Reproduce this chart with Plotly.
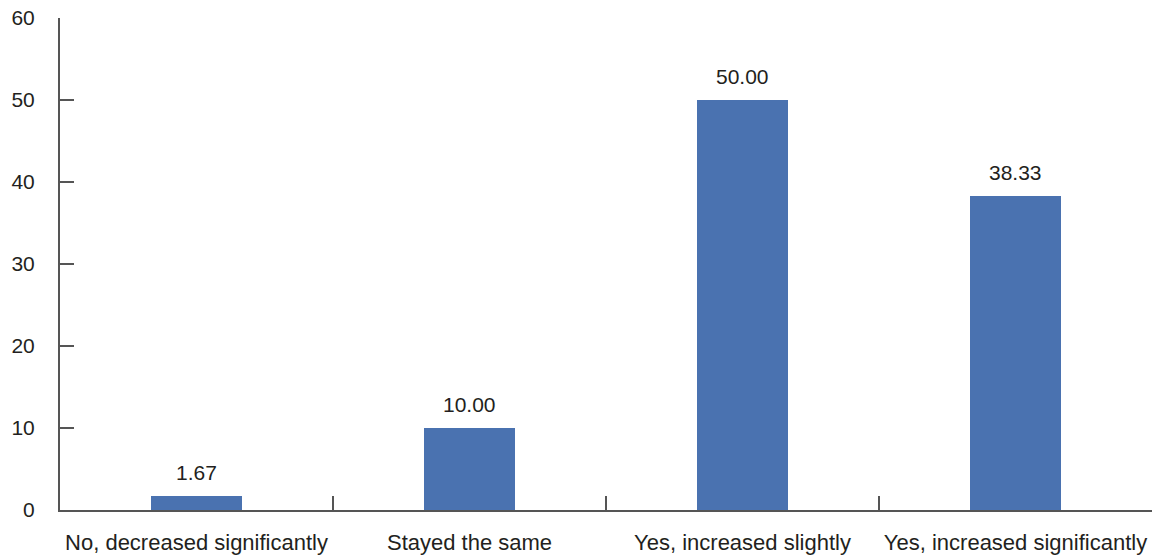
import plotly.graph_objects as go

categories = ["No, decreased significantly", "Stayed the same", "Yes, increased slightly", "Yes, increased significantly"]
values = [1.67, 10.00, 50.00, 38.33]
y_ticks = [0, 10, 20, 30, 40, 50, 60]

bar_color = "#4a72b0"
text_color = "#231f20"
axis_color = "#555555"
font_family = "Liberation Sans, Arial, sans-serif"

fig = go.Figure()
fig.add_trace(go.Bar(
    x=categories, y=values, marker=dict(color=bar_color, line=dict(width=0)),
    width=0.333, showlegend=False,
))

for c, v in zip(categories, values):
    fig.add_annotation(
        x=c, y=v, text=f"{v:.2f}", showarrow=False, yanchor="bottom",
        yshift=10, font=dict(size=21, color=text_color, family=font_family),
    )

fig.update_layout(
    width=1156, height=556,
    margin=dict(l=60, r=4, t=18, b=46),
    paper_bgcolor="white", plot_bgcolor="white",
    font=dict(family=font_family, color=text_color),
    bargap=0,
)
fig.update_xaxes(
    range=[-0.5, 3.5], showline=True, linecolor=axis_color, linewidth=2,
    ticks="inside", tickson="boundaries", ticklen=14, tickcolor=axis_color, tickwidth=1.5,
    showgrid=False, zeroline=False, automargin=False,
    tickfont=dict(size=22, color=text_color, family=font_family),
    ticklabelstandoff=12,
)
fig.update_yaxes(
    range=[0, 60], tickvals=y_ticks, showline=True, linecolor=axis_color, linewidth=2,
    ticks="inside", ticklen=14, tickcolor=axis_color, tickwidth=1.5,
    showgrid=False, zeroline=False, automargin=False,
    tickfont=dict(size=21, color=text_color, family=font_family),
    ticklabelstandoff=19,
)

fig.write_html(
    "out.html",
    config={"displayModeBar": False},
    post_script="document.body.style.margin='0px';document.body.style.overflow='hidden';",
)
